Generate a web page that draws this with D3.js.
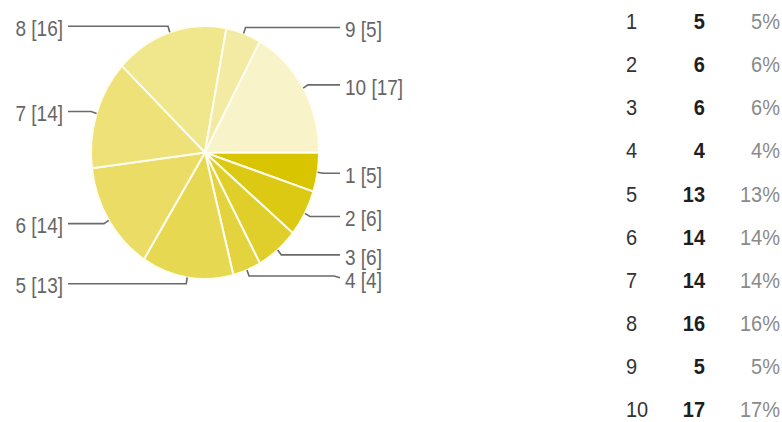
<!DOCTYPE html>
<html>
<head>
<meta charset="utf-8">
<script src="https://cdn.jsdelivr.net/npm/d3@7/dist/d3.min.js"></script>
<style>
  html, body { margin: 0; padding: 0; background: #ffffff; }
  svg { display: block; font-family: "Liberation Sans", Arial, sans-serif; }
</style>
</head>
<body>
<script>
// Response counts per rating (1–10)
const categories = ["1", "2", "3", "4", "5", "6", "7", "8", "9", "10"];
const counts = [5, 6, 6, 4, 13, 14, 14, 16, 5, 17];

const width = 782, height = 422;
const svg = d3.select("body").append("svg")
  .attr("width", width).attr("height", height);

const data = categories.map((c, i) => ({ category: c, value: counts[i] }));
const total = d3.sum(counts);

// Pie geometry: a circle stretched vertically into an ellipse
const cx = 205, cy = 152.5, rx = 114, ry = 126.5;
const stretch = ry / rx;
const textStretch = 1.12;

const color = d3.scaleOrdinal()
  .domain(categories)
  .range(["#d9c400", "#dcc913", "#e0ce2a", "#e3d33e", "#e7d852",
          "#eadc64", "#ede177", "#f0e68c", "#f3eba3", "#f8f3c8"]);

const pie = d3.pie()
  .value(d => d.value)
  .sort(null)
  .startAngle(Math.PI / 2)
  .endAngle(Math.PI / 2 + 2 * Math.PI);

const arcs = pie(data);
const arc = d3.arc().innerRadius(0).outerRadius(rx);

const pieG = svg.append("g")
  .attr("transform", `translate(${cx},${cy}) scale(1,${stretch})`);

pieG.selectAll("path.slice")
  .data(arcs)
  .join("path")
  .attr("class", "slice")
  .attr("d", arc)
  .attr("fill", d => color(d.data.category))
  .attr("stroke", "#fffdf0")
  .attr("stroke-width", 2)
  .attr("stroke-linejoin", "round")
  .attr("vector-effect", "non-scaling-stroke");

// Leader line anchors: on the rim, then a short radial step, then horizontal
const labels = arcs.map(a => {
  const mid = (a.startAngle + a.endAngle) / 2;
  // d3 angles run clockwise from 12 o'clock
  const ux = Math.sin(mid), uy = -Math.cos(mid);
  const p0 = [cx + rx * ux, cy + ry * uy];
  const p1 = [cx + rx * 1.05 * ux, cy + ry * 1.05 * uy];
  return { a, p0, p1, right: ux >= 0, ty: p1[1] + 2 };
});

// Keep labels on each side from overlapping by pushing them downward
const minGap = 23;
[true, false].forEach(side => {
  const group = labels.filter(l => l.right === side).sort((m, n) => m.ty - n.ty);
  for (let i = 1; i < group.length; i++) {
    if (group[i].ty - group[i - 1].ty < minGap) group[i].ty = group[i - 1].ty + minGap;
  }
});

const labelG = svg.append("g");
labels.forEach(l => {
  const endX = l.right ? 340 : 68;
  const kneeX = l.right ? endX - 6 : endX + 6;
  const lineY = l.ty - 2;
  const pts = Math.abs(lineY - l.p1[1]) < 0.5
    ? [l.p0, l.p1, [endX, l.p1[1]]]
    : [l.p0, l.p1, [kneeX, l.p1[1]], [endX, lineY]];

  labelG.append("path")
    .attr("d", d3.line()(pts))
    .attr("fill", "none")
    .attr("stroke", "#6a6a6a")
    .attr("stroke-width", 1.6);

  labelG.append("text")
    .attr("transform", `translate(${l.right ? 345 : 63},${l.ty}) scale(1,${textStretch})`)
    .attr("text-anchor", l.right ? "start" : "end")
    .attr("dy", "0.36em")
    .attr("font-size", 19)
    .attr("fill", "#666666")
    .text(`${l.a.data.category} [${l.a.data.value}]`);
});

// Summary table: rating, count, percentage
const rowY = d3.scalePoint().domain(categories).range([21, 409]);
const fmtPct = v => Math.round(v / total * 100) + "%";

const rows = svg.append("g").selectAll("g.row")
  .data(data)
  .join("g")
  .attr("class", "row");

rows.append("text")
  .attr("transform", d => `translate(626,${rowY(d.category)}) scale(1,${textStretch})`)
  .attr("dy", "0.36em")
  .attr("font-size", 20)
  .attr("fill", "#333333")
  .text(d => d.category);

rows.append("text")
  .attr("transform", d => `translate(705,${rowY(d.category)}) scale(1,${textStretch})`)
  .attr("dy", "0.36em")
  .attr("text-anchor", "end")
  .attr("font-size", 20)
  .attr("font-weight", "bold")
  .attr("fill", "#1e1e1e")
  .text(d => d.value);

rows.append("text")
  .attr("transform", d => `translate(780,${rowY(d.category)}) scale(1,${textStretch})`)
  .attr("dy", "0.36em")
  .attr("text-anchor", "end")
  .attr("font-size", 20)
  .attr("fill", "#8a8a8a")
  .text(d => fmtPct(d.value));
</script>
</body>
</html>
